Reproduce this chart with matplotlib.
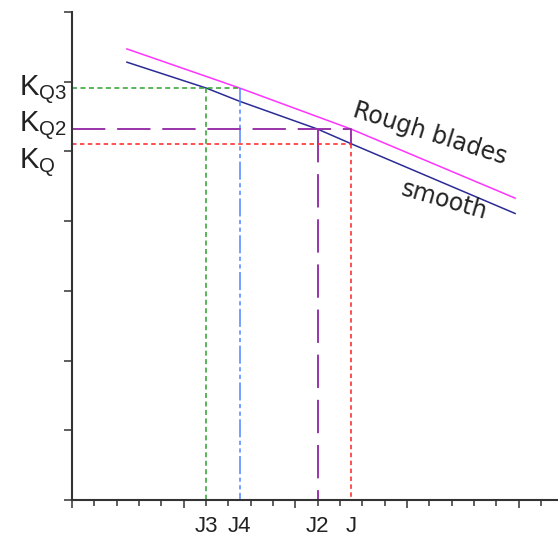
import matplotlib
matplotlib.use("Agg")
import matplotlib.pyplot as plt

plt.rcParams['font.family'] = ['Liberation Sans', 'DejaVu Sans']
plt.rcParams['lines.scale_dashes'] = False

# torque coefficient curves (advance ratio in tick units)
rough_j = [2.46, 7.5, 12.5, 19.84]
rough_kq = [6.47, 5.91, 5.32, 4.33]
smooth_j = [2.46, 6.0, 7.5, 11.0, 12.5, 19.84]
smooth_kq = [6.28, 5.91, 5.72, 5.32, 5.11, 4.11]

# operating points
J3, J4, J2, J = 6.0, 7.5, 11.0, 12.5
KQ3, KQ2, KQ = 5.91, 5.32, 5.11

fig = plt.figure(figsize=(5.58, 5.37), dpi=100)
ax = fig.add_axes([72 / 558, 37 / 537, 486 / 558, 488 / 537])
ax.set_xlim(0, 21.76)
ax.set_ylim(0, 7)

ax.plot(rough_j, rough_kq, color='#ff33ff', lw=1.1)
ax.plot(smooth_j, smooth_kq, color='#2b2b95', lw=1.1)

# K_Q3 / J3 / J4
ax.plot([0, J4], [KQ3, KQ3], color='#2ca02c', lw=1.1, dashes=(3.6, 2.5))
ax.plot([J3, J3], [KQ3, 0], color='#2ca02c', lw=1.1, dashes=(3.6, 2.5))
ax.plot([J4, J4], [KQ3, 0], color='#4f86ff', lw=1.1,
        dashes=(13, 2.5, 3, 2.5, 3, 2.5))
# K_Q2 / J2
ax.plot([0, J, J], [KQ2, KQ2, KQ], color='#9933aa', lw=1.4, dashes=(24, 8.5))
ax.plot([J2, J2], [KQ2, 0], color='#9933aa', lw=1.4, dashes=(24, 8.5))
# K_Q / J
ax.plot([0, J], [KQ, KQ], color='#ff2020', lw=1.1, dashes=(3.2, 2.5))
ax.plot([J, J], [KQ, 0], color='#ff2020', lw=1.1, dashes=(3.2, 2.5))

for s in ['top', 'right']:
    ax.spines[s].set_visible(False)
for s in ['left', 'bottom']:
    ax.spines[s].set_color('#333333')
    ax.spines[s].set_linewidth(1.5)

ax.set_xticks(range(0, 22, 5))
ax.set_xticks(range(0, 22), minor=True)
ax.set_yticks(range(0, 8))
ax.tick_params(axis='x', which='major', length=6, width=1.1, color='#333333',
               labelbottom=False)
ax.tick_params(axis='x', which='minor', length=4, width=1.1, color='#333333')
ax.tick_params(axis='y', which='major', length=6, width=1.1, color='#333333',
               labelleft=False)

# level labels on the K_Q axis
for lab, lev, dy in [('Q3', KQ3, -8), ('Q2', KQ2, -3.5), ('Q', KQ, -25)]:
    ax.annotate(r'$\mathregular{K_{%s}}$' % lab, xy=(0, lev),
                xytext=(-53, dy), textcoords='offset pixels',
                fontsize=21, color='#222222', ha='left', va='baseline',
                annotation_clip=False)

# advance ratio labels
for lab, jv in [('J3', J3), ('J4', J4), ('J2', J2), ('J', J)]:
    ax.annotate(lab, xy=(jv, 0), xytext=(0, -32), textcoords='offset pixels',
                fontsize=16, color='#222222', ha='center', va='baseline',
                annotation_clip=False)

ax.text(351.7 / 558, 1 - 116.7 / 537, 'Rough blades', transform=fig.transFigure,
        family='DejaVu Sans', fontsize=17, color='#222222', rotation=-17.5,
        rotation_mode='anchor', ha='left', va='baseline')
ax.text(400 / 558, 1 - 195 / 537, 'smooth', transform=fig.transFigure,
        family='DejaVu Sans', fontsize=17, color='#222222', rotation=-16,
        rotation_mode='anchor', ha='left', va='baseline')

fig.savefig('out.png', dpi=100)
